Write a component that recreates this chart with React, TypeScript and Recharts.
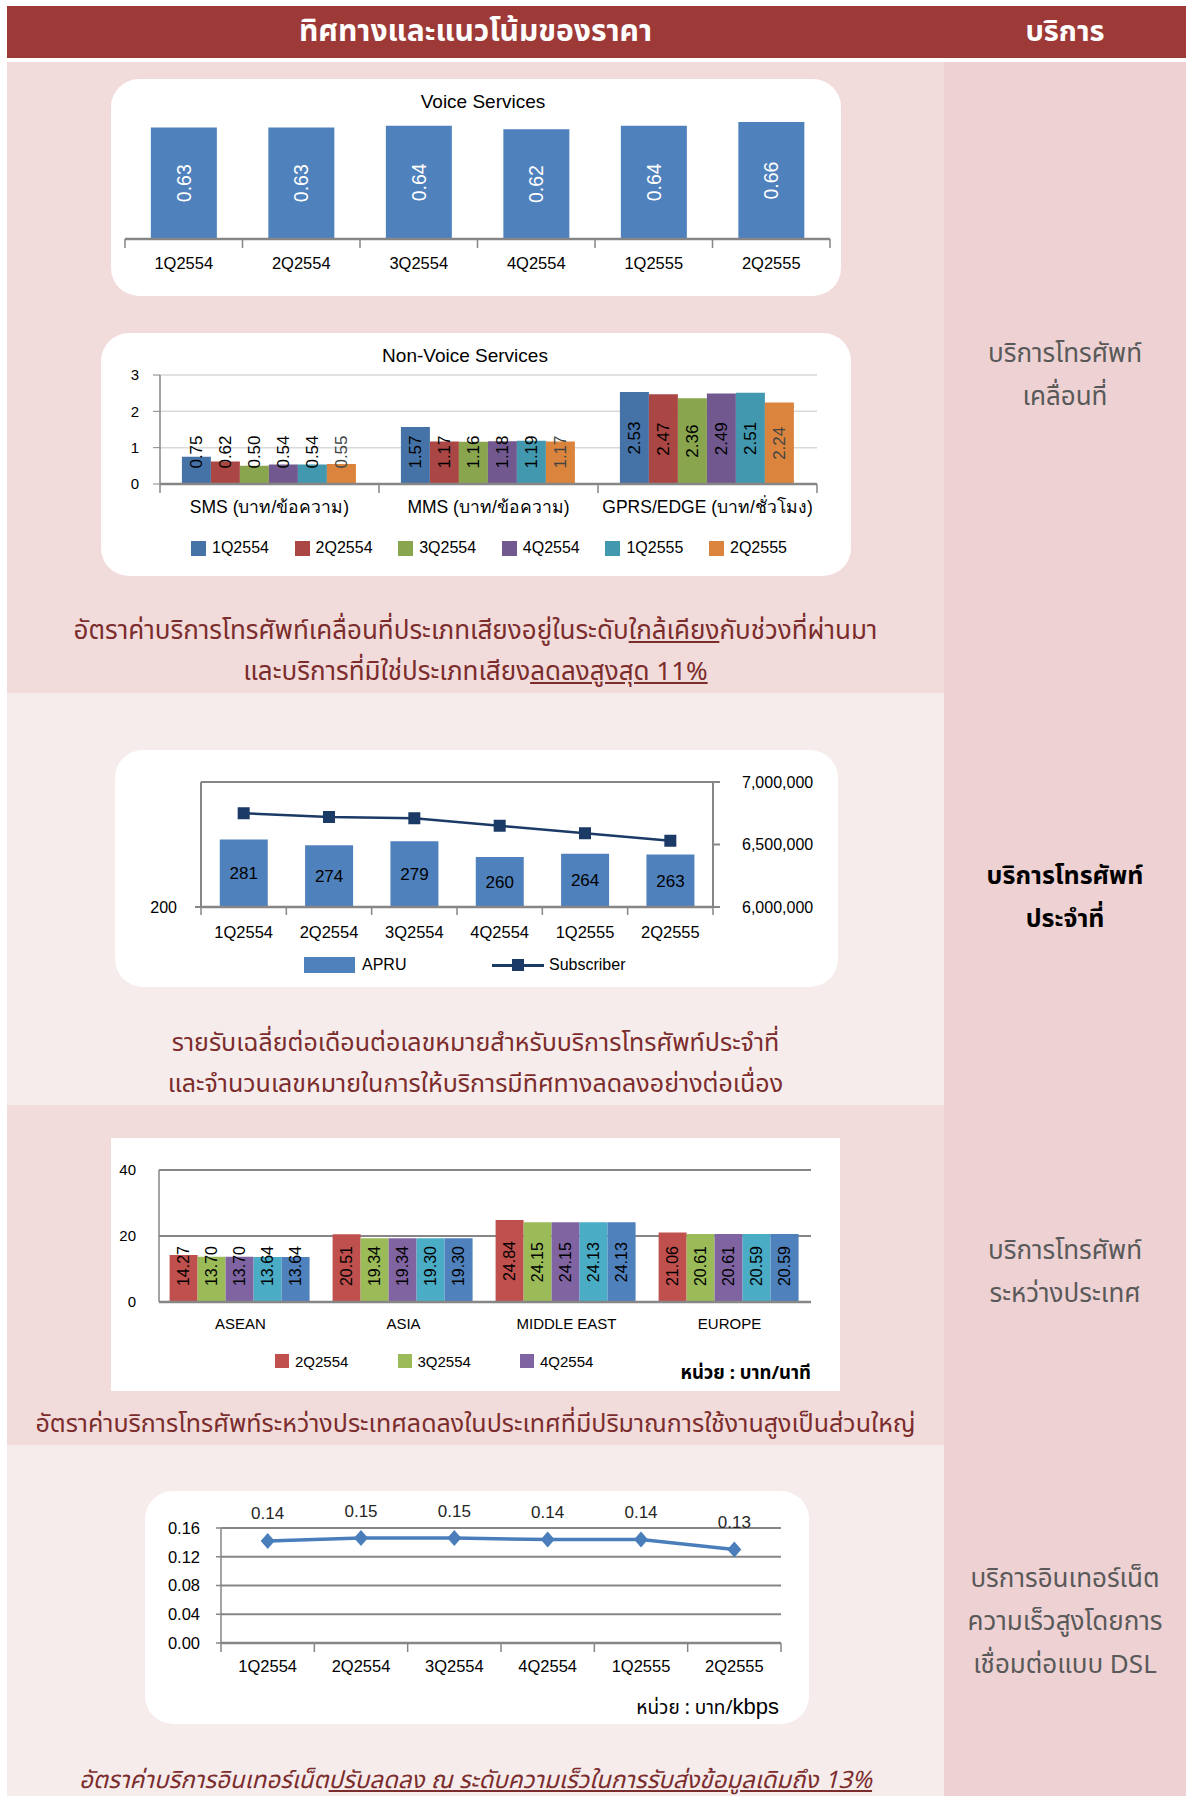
import {
  BarChart,
  Bar,
  XAxis,
  YAxis,
  CartesianGrid,
  Legend,
  LabelList,
  Line,
  LineChart,
  ComposedChart,
  ReferenceLine,
} from "recharts";

const QUARTERS = ["1Q2554", "2Q2554", "3Q2554", "4Q2554", "1Q2555", "2Q2555"];

const VOICE = [0.63, 0.63, 0.64, 0.62, 0.64, 0.66];

const NON_VOICE_CATS = ["SMS (บาท/ข้อความ)", "MMS (บาท/ข้อความ)", "GPRS/EDGE (บาท/ชั่วโมง)"];
const SMS = [0.75, 0.62, 0.5, 0.54, 0.54, 0.55];
const MMS = [1.57, 1.17, 1.16, 1.18, 1.19, 1.17];
const GPRS = [2.53, 2.47, 2.36, 2.49, 2.51, 2.24];
const NON_VOICE_COLORS = ["#4572a7", "#aa4643", "#89a54e", "#71588f", "#4198af", "#db843d"];

const ARPU = [281, 274, 279, 260, 264, 263];
const SUBSCRIBERS = [6750000, 6720000, 6710000, 6650000, 6590000, 6530000];

const REGIONS = ["ASEAN", "ASIA", "MIDDLE EAST", "EUROPE"];
const INTL_SERIES = ["2Q2554", "3Q2554", "4Q2554", "1Q2555", "2Q2555"];
const ASEAN = [14.27, 13.7, 13.7, 13.64, 13.64];
const ASIA = [20.51, 19.34, 19.34, 19.3, 19.3];
const MIDDLE_EAST = [24.84, 24.15, 24.15, 24.13, 24.13];
const EUROPE = [21.06, 20.61, 20.61, 20.59, 20.59];
const INTL_COLORS = ["#c0504d", "#9bbb59", "#8064a2", "#4bacc6", "#4f81bd"];

const DSL = [0.142, 0.146, 0.146, 0.144, 0.144, 0.13];

const FONT = '"Liberation Sans", Arial, sans-serif';
const THAI = '"Noto Sans Thai", "Tlwg Typist", Loma, Garuda, "Liberation Sans", sans-serif';
const AXIS_GRAY = "#868686";

// tables for the charts
const voiceData = QUARTERS.map((q, i) => ({ q, v: VOICE[i] }));

const nonVoiceData = NON_VOICE_CATS.map((cat, ci) => {
  const src = [SMS, MMS, GPRS][ci];
  const row: Record<string, string | number> = { cat };
  QUARTERS.forEach((q, i) => (row[q] = src[i]));
  return row;
});

const fixedData = QUARTERS.map((q, i) => ({ q, APRU: ARPU[i], Subscriber: SUBSCRIBERS[i] }));

const intlData = REGIONS.map((r, ri) => {
  const src = [ASEAN, ASIA, MIDDLE_EAST, EUROPE][ri];
  const row: Record<string, string | number> = { r };
  INTL_SERIES.forEach((s, i) => (row[s] = src[i]));
  return row;
});

const dslData = QUARTERS.map((q, i) => ({ q, v: DSL[i] }));

// category tick: label in the middle, tick marks on the band edges
function categoryTick(band: number, count: number, dy: number, fontSize: number, tickLen: number) {
  return (props: any) => {
    const { x, y, payload, index } = props;
    const h = band / 2;
    return (
      <g>
        {tickLen > 0 && (
          <line x1={x - h} x2={x - h} y1={y} y2={y + tickLen} stroke={AXIS_GRAY} strokeWidth={1.5} />
        )}
        {tickLen > 0 && index === count - 1 && (
          <line x1={x + h} x2={x + h} y1={y} y2={y + tickLen} stroke={AXIS_GRAY} strokeWidth={1.5} />
        )}
        <text x={x} y={y + dy} textAnchor="middle" dominantBaseline="central" fontSize={fontSize} fill="#000" fontFamily={FONT}>
          {payload.value}
        </text>
      </g>
    );
  };
}

// rotated value label inside a bar; lifted up when the bar is short
function rotatedLabel(color: string, fontSize: number, lift: number) {
  return (props: any) => {
    const { x, y, width, height, value } = props;
    const cx = Number(x) + Number(width) / 2;
    const cy = Math.min(Number(y) + Number(height) / 2, Number(y) + Number(height) - lift);
    return (
      <text
        x={cx}
        y={cy}
        transform={`rotate(-90 ${cx} ${cy})`}
        textAnchor="middle"
        dominantBaseline="central"
        fill={color}
        fontSize={fontSize}
        fontFamily={FONT}
      >
        {Number(value).toFixed(2)}
      </text>
    );
  };
}

function SquareLegend({ payload, order, start, step, size, fontSize }: any) {
  const items = (payload || [])
    .filter((p: any) => p.type !== "none")
    .sort((a: any, b: any) => order.indexOf(a.value) - order.indexOf(b.value));
  return (
    <div style={{ position: "relative", height: 24, fontFamily: FONT, fontSize }}>
      {items.map((p: any, i: number) => (
        <div key={p.value} style={{ position: "absolute", left: start + i * step, top: 0, height: 24, display: "flex", alignItems: "center" }}>
          <span style={{ width: size, height: size, background: p.color, display: "inline-block", marginRight: 6 }} />
          <span style={{ color: "#000" }}>{p.value}</span>
        </div>
      ))}
    </div>
  );
}

function VoiceChart() {
  return (
    <BarChart width={730} height={217} data={voiceData} margin={{ top: 36, right: 11, left: 14, bottom: 27 }} barCategoryGap="22%">
      <YAxis hide domain={[0, 0.7]} />
      <XAxis
        dataKey="q"
        height={30}
        tickSize={0}
        tickMargin={0}
        tickLine={false}
        axisLine={{ stroke: AXIS_GRAY, strokeWidth: 2.5 }}
        tick={categoryTick(705 / 6, 6, 24, 16.5, 9)}
        interval={0}
      />
      <Bar dataKey="v" fill="#4f81bd" isAnimationActive={false}>
        <LabelList dataKey="v" content={rotatedLabel("#fff", 19.5, 0)} />
      </Bar>
    </BarChart>
  );
}

function NonVoiceChart() {
  return (
    <BarChart width={750} height={243} data={nonVoiceData} margin={{ top: 42, right: 34, left: 14, bottom: 16 }} barCategoryGap="10%" barGap={0}>
      <CartesianGrid vertical={false} stroke="#d9d9d9" strokeWidth={1.5} />
      <YAxis
        width={45}
        domain={[0, 3]}
        ticks={[0, 1, 2, 3]}
        tickSize={7}
        tickMargin={14}
        axisLine={{ stroke: AXIS_GRAY, strokeWidth: 1.5 }}
        tickLine={{ stroke: AXIS_GRAY }}
        tick={{ fill: "#000", fontSize: 15, fontFamily: FONT }}
      />
      <XAxis
        dataKey="cat"
        height={52}
        tickSize={0}
        tickMargin={0}
        tickLine={false}
        axisLine={{ stroke: AXIS_GRAY, strokeWidth: 2.5 }}
        tick={categoryTick(657 / 3, 3, 23, 17.5, 9)}
        interval={0}
      />
      <Legend
        verticalAlign="bottom"
        wrapperStyle={{ left: 0, width: 750 }}
        content={(p: any) => <SquareLegend payload={p.payload} order={QUARTERS} start={90} step={103.6} size={15} fontSize={16} />}
      />
      {QUARTERS.map((q, i) => (
        <Bar key={q} dataKey={q} fill={NON_VOICE_COLORS[i]} isAnimationActive={false}>
          <LabelList dataKey={q} content={rotatedLabel(i === 5 ? "#444" : "#000", 17, 32)} />
        </Bar>
      ))}
    </BarChart>
  );
}

function SquareDot(props: any) {
  const { cx, cy } = props;
  return <rect x={cx - 6} y={cy - 6} width={12} height={12} fill="#1b3a66" />;
}

function FixedLegend() {
  return (
    <div style={{ position: "relative", height: 20, fontFamily: FONT, fontSize: 16 }}>
      <span style={{ position: "absolute", left: 189, top: 2, width: 51, height: 16, background: "#4f81bd" }} />
      <span style={{ position: "absolute", left: 247, top: 0, lineHeight: "20px" }}>APRU</span>
      <span style={{ position: "absolute", left: 377, top: 9, width: 52, height: 2.5, background: "#1b3a66" }} />
      <span style={{ position: "absolute", left: 397, top: 4, width: 12, height: 12, background: "#1b3a66" }} />
      <span style={{ position: "absolute", left: 434, top: 0, lineHeight: "20px" }}>Subscriber</span>
    </div>
  );
}

function FixedLineChart() {
  return (
    <ComposedChart width={723} height={237} data={fixedData} margin={{ top: 32, right: 5, left: 0, bottom: 12 }} barCategoryGap="22%">
      <YAxis
        yAxisId="left"
        width={86}
        domain={[200, 350]}
        ticks={[200]}
        tickSize={6}
        tickMargin={18}
        axisLine={{ stroke: AXIS_GRAY, strokeWidth: 2 }}
        tickLine={{ stroke: AXIS_GRAY, strokeWidth: 2 }}
        tick={{ fill: "#000", fontSize: 16, fontFamily: FONT }}
      />
      <YAxis
        yAxisId="right"
        orientation="right"
        width={120}
        domain={[6000000, 7000000]}
        ticks={[6000000, 6500000, 7000000]}
        tickFormatter={(v: number) => v.toLocaleString("en-US")}
        tickSize={7}
        tickMargin={22}
        axisLine={{ stroke: AXIS_GRAY, strokeWidth: 2 }}
        tickLine={{ stroke: AXIS_GRAY, strokeWidth: 2 }}
        tick={{ fill: "#000", fontSize: 16, fontFamily: FONT, textAnchor: "start" }}
      />
      <XAxis
        dataKey="q"
        height={48}
        tickSize={0}
        tickMargin={0}
        tickLine={false}
        axisLine={{ stroke: AXIS_GRAY, strokeWidth: 2.5 }}
        tick={categoryTick(512 / 6, 6, 25, 16.5, 8)}
        interval={0}
      />
      <ReferenceLine yAxisId="left" y={350} stroke={AXIS_GRAY} strokeWidth={2} />
      <Legend verticalAlign="bottom" wrapperStyle={{ left: 0, width: 723 }} content={() => <FixedLegend />} />
      <Bar yAxisId="left" dataKey="APRU" fill="#4f81bd" isAnimationActive={false}>
        <LabelList dataKey="APRU" position="center" fill="#000" fontSize={17} fontFamily={FONT} />
      </Bar>
      <Line
        yAxisId="right"
        dataKey="Subscriber"
        stroke="#1b3a66"
        strokeWidth={2.5}
        dot={<SquareDot />}
        isAnimationActive={false}
      />
    </ComposedChart>
  );
}

function IntlChart() {
  return (
    <BarChart width={729} height={253} data={intlData} margin={{ top: 32, right: 29, left: 0, bottom: 18 }} barCategoryGap="6.5%" barGap={0}>
      <CartesianGrid vertical={false} stroke={AXIS_GRAY} strokeWidth={2} />
      <YAxis
        width={48}
        domain={[0, 40]}
        ticks={[0, 20, 40]}
        tickSize={0}
        tickMargin={23}
        tickLine={false}
        axisLine={{ stroke: AXIS_GRAY, strokeWidth: 1.5 }}
        tick={{ fill: "#000", fontSize: 15, fontFamily: FONT }}
      />
      <XAxis
        dataKey="r"
        height={47}
        tickSize={0}
        tickMargin={0}
        tickLine={false}
        axisLine={{ stroke: AXIS_GRAY, strokeWidth: 2.5 }}
        tick={categoryTick(652 / 4, 4, 21, 15, 0)}
        interval={0}
      />
      <Legend
        verticalAlign="bottom"
        wrapperStyle={{ left: 0, width: 729 }}
        content={(p: any) => <SquareLegend payload={p.payload} order={INTL_SERIES} start={164} step={122.5} size={14} fontSize={15} />}
      />
      {INTL_SERIES.map((s, i) => (
        <Bar key={s} dataKey={s} fill={INTL_COLORS[i]} legendType={i < 3 ? "square" : "none"} isAnimationActive={false}>
          <LabelList dataKey={s} content={rotatedLabel("#000", 16, 36)} />
        </Bar>
      ))}
    </BarChart>
  );
}

function DiamondDot(props: any) {
  const { cx, cy } = props;
  return <polygon points={`${cx},${cy - 8} ${cx + 7},${cy} ${cx},${cy + 8} ${cx - 7},${cy}`} fill="#4a7ebb" />;
}

// plot is 560 wide, six categories -> half a band of padding on each side
const DSL_BAND = 560 / 6;

function DslChart() {
  return (
    <LineChart width={664} height={233} data={dslData} margin={{ top: 37, right: 28, left: 0, bottom: 51 }}>
      <CartesianGrid vertical={false} stroke={AXIS_GRAY} strokeWidth={2} />
      <YAxis
        width={76}
        domain={[0, 0.16]}
        ticks={[0, 0.04, 0.08, 0.12, 0.16]}
        tickFormatter={(v: number) => v.toFixed(2)}
        tickSize={5}
        tickMargin={16}
        axisLine={{ stroke: AXIS_GRAY, strokeWidth: 1.5 }}
        tickLine={{ stroke: AXIS_GRAY, strokeWidth: 1.5 }}
        tick={{ fill: "#000", fontSize: 16.5, fontFamily: FONT }}
      />
      <XAxis
        dataKey="q"
        height={30}
        tickSize={0}
        tickMargin={0}
        tickLine={false}
        padding={{ left: DSL_BAND / 2, right: DSL_BAND / 2 }}
        axisLine={{ stroke: AXIS_GRAY, strokeWidth: 2.5 }}
        tick={categoryTick(DSL_BAND, 6, 23, 16.5, 9)}
        interval={0}
      />
      <Line dataKey="v" stroke="#4a7ebb" strokeWidth={3.5} dot={<DiamondDot />} isAnimationActive={false}>
        <LabelList
          dataKey="v"
          content={(p: any) => (
            <text x={p.x} y={p.y - 27} textAnchor="middle" dominantBaseline="central" fontSize={17} fill="#262626" fontFamily={FONT}>
              {Number(p.value).toFixed(2)}
            </text>
          )}
        />
      </Line>
    </LineChart>
  );
}

const box = (left: number, top: number, width: number, height: number, radius: number): React.CSSProperties => ({
  position: "absolute",
  left,
  top,
  width,
  height,
  background: "#fff",
  borderRadius: radius,
  overflow: "hidden",
});

const caption: React.CSSProperties = {
  position: "absolute",
  left: 7,
  width: 937,
  textAlign: "center",
  color: "#7b2c2c",
  fontFamily: THAI,
  fontSize: 25,
  lineHeight: "41px",
  whiteSpace: "nowrap",
};

const side: React.CSSProperties = {
  position: "absolute",
  left: 944,
  width: 242,
  textAlign: "center",
  color: "#595959",
  fontFamily: THAI,
  fontSize: 26,
  lineHeight: "43px",
};

export default function App() {
  return (
    <div style={{ position: "relative", width: 1186, height: 1796, background: "#fff", fontFamily: FONT }}>
      <style>{"body{margin:0}"}</style>

      {/* header */}
      <div style={{ position: "absolute", left: 7, top: 6, width: 1179, height: 52, background: "#9d3937" }} />
      <div style={{ position: "absolute", left: 7, top: 6, width: 937, height: 52, lineHeight: "52px", textAlign: "center", color: "#fff", fontFamily: THAI, fontSize: 30, fontWeight: "bold" }}>
        ทิศทางและแนวโน้มของราคา
      </div>
      <div style={{ position: "absolute", left: 944, top: 6, width: 242, height: 52, lineHeight: "52px", textAlign: "center", color: "#fff", fontFamily: THAI, fontSize: 29, fontWeight: "bold" }}>
        บริการ
      </div>

      {/* row backgrounds */}
      <div style={{ position: "absolute", left: 7, top: 62, width: 937, height: 631, background: "#f2dcdb" }} />
      <div style={{ position: "absolute", left: 7, top: 693, width: 937, height: 412, background: "#f7ecec" }} />
      <div style={{ position: "absolute", left: 7, top: 1105, width: 937, height: 340, background: "#f2dcdb" }} />
      <div style={{ position: "absolute", left: 7, top: 1445, width: 937, height: 351, background: "#f7ecec" }} />
      <div style={{ position: "absolute", left: 944, top: 62, width: 242, height: 1734, background: "#eed2d3" }} />

      {/* mobile: voice */}
      <div style={box(111, 79, 730, 217, 28)}>
        <div style={{ position: "absolute", top: 12, left: 7, width: "100%", textAlign: "center", fontSize: 19, color: "#000" }}>Voice Services</div>
        <VoiceChart />
      </div>

      {/* mobile: non-voice */}
      <div style={box(101, 333, 750, 243, 28)}>
        <div style={{ position: "absolute", top: 12, left: -11, width: "100%", textAlign: "center", fontSize: 19, color: "#000" }}>Non-Voice Services</div>
        <NonVoiceChart />
      </div>

      <div style={{ ...caption, top: 611, fontSize: 26 }}>
        อัตราค่าบริการโทรศัพท์เคลื่อนที่ประเภทเสียงอยู่ในระดับ<u>ใกล้เคียง</u>กับช่วงที่ผ่านมา
        <br />
        และบริการที่มิใช่ประเภทเสียง<u>ลดลงสูงสุด 11%</u>
      </div>

      {/* fixed line */}
      <div style={box(115, 750, 723, 237, 28)}>
        <FixedLineChart />
      </div>
      <div style={{ ...caption, top: 1023 }}>
        รายรับเฉลี่ยต่อเดือนต่อเลขหมายสำหรับบริการโทรศัพท์ประจำที่
        <br />
        และจำนวนเลขหมายในการให้บริการมีทิศทางลดลงอย่างต่อเนื่อง
      </div>

      {/* international */}
      <div style={box(111, 1138, 729, 253, 0)}>
        <IntlChart />
        <div style={{ position: "absolute", right: 29, top: 221, fontFamily: THAI, fontSize: 18.5, fontWeight: "bold", color: "#000" }}>
          หน่วย : บาท/นาที
        </div>
      </div>
      <div style={{ ...caption, top: 1404 }}>
        อัตราค่าบริการโทรศัพท์ระหว่างประเทศลดลงในประเทศที่มีปริมาณการใช้งานสูงเป็นส่วนใหญ่
      </div>

      {/* DSL */}
      <div style={box(145, 1491, 664, 233, 28)}>
        <DslChart />
        <div style={{ position: "absolute", right: 30, top: 203, fontFamily: THAI, fontSize: 19, color: "#000" }}>
          หน่วย : บาท/<span style={{ fontFamily: FONT, fontSize: 22 }}>kbps</span>
        </div>
      </div>
      <div style={{ ...caption, top: 1761, fontStyle: "italic", fontSize: 24 }}>
        อัตราค่าบริการอินเทอร์เน็ต<u>ปรับลดลง ณ ระดับความเร็วในการรับส่งข้อมูลเดิมถึง 13%</u>
      </div>

      {/* side labels */}
      <div style={{ ...side, top: 333 }}>
        บริการโทรศัพท์
        <br />
        เคลื่อนที่
      </div>
      <div style={{ ...side, top: 855, color: "#000", fontWeight: "bold", fontSize: 25 }}>
        บริการโทรศัพท์
        <br />
        ประจำที่
      </div>
      <div style={{ ...side, top: 1230 }}>
        บริการโทรศัพท์
        <br />
        ระหว่างประเทศ
      </div>
      <div style={{ ...side, top: 1558 }}>
        บริการอินเทอร์เน็ต
        <br />
        ความเร็วสูงโดยการ
        <br />
        เชื่อมต่อแบบ DSL
      </div>
    </div>
  );
}
